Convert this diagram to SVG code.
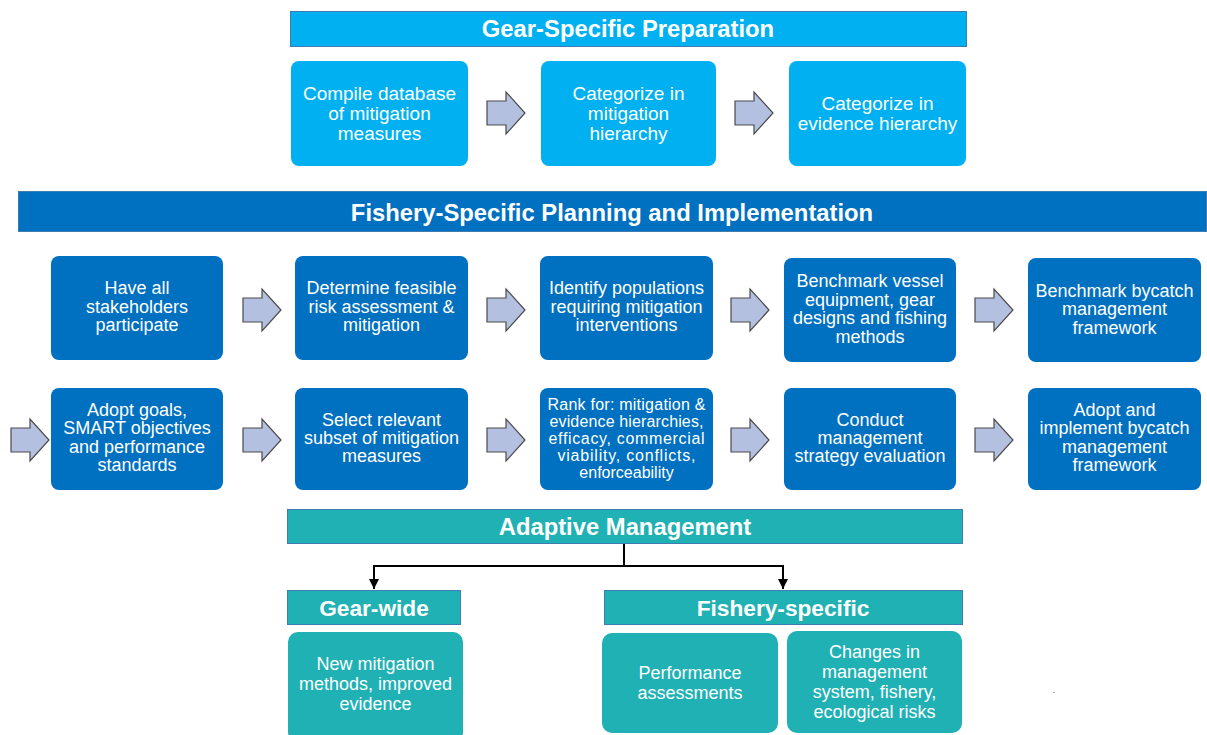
<svg xmlns="http://www.w3.org/2000/svg" width="1207" height="735" viewBox="0 0 1207 735">
<style>
text{font-family:"Liberation Sans",Arial,sans-serif;fill:#fff;text-anchor:middle}
.h{font-weight:bold;font-size:23.8px}
.h2{font-weight:bold;font-size:22.7px}
.t{font-size:18px}
.t19{font-size:19px}
.s{font-size:16px}
.lb{fill:#00B0F0}
.db{fill:#0070C0}
.tl{fill:#1FB1B3}
.ban{stroke:#3E7CB1;stroke-width:1}
.arr{fill:#B4C0E0;stroke:#4A4A4A;stroke-width:1.2}
.con{fill:none;stroke:#000;stroke-width:2}
</style>
<defs>
<path id="ba" class="arr" d="M0,-12 H19 V-21 L38,0 L19,21 V12 H0 Z"/>
<marker id="ah" viewBox="0 0 10 10" refX="10" refY="5" markerWidth="5" markerHeight="5" orient="auto" markerUnits="strokeWidth">
<path d="M0,0 L10,5 L0,10 Z" fill="#000"/>
</marker>
</defs>

<g id="gear-prep">
<rect class="lb ban" x="290.5" y="11.5" width="676" height="35"/>
<text class="h" x="628" y="37">Gear-Specific Preparation</text>
</g>
<g id="compile">
<rect class="lb" x="291" y="61" width="177" height="105" rx="8"/>
<text class="t19" x="379.5" y="99.5">Compile database</text>
<text class="t19" x="379.5" y="119.5">of mitigation</text>
<text class="t19" x="379.5" y="139.5">measures</text>
</g>
<g id="cat-mit">
<rect class="lb" x="541" y="61" width="175" height="105" rx="8"/>
<text class="t19" x="628.5" y="99.5">Categorize in</text>
<text class="t19" x="628.5" y="119.5">mitigation</text>
<text class="t19" x="628.5" y="139.5">hierarchy</text>
</g>
<g id="cat-evi">
<rect class="lb" x="789" y="61" width="177" height="105" rx="8"/>
<text class="t19" x="877.5" y="109.5">Categorize in</text>
<text class="t19" x="877.5" y="129.5">evidence hierarchy</text>
</g>

<g id="fish-plan">
<rect class="db ban" x="18.5" y="191.5" width="1188" height="40"/>
<text class="h" x="612" y="220.5">Fishery-Specific Planning and Implementation</text>
</g>
<g id="r1b1">
<rect class="db" x="51" y="256" width="172" height="104" rx="8"/>
<text class="t" x="137" y="294">Have all</text>
<text class="t" x="137" y="313">stakeholders</text>
<text class="t" x="137" y="331">participate</text>
</g>
<g id="r1b2">
<rect class="db" x="295" y="256" width="173" height="104" rx="8"/>
<text class="t" x="381.5" y="294">Determine feasible</text>
<text class="t" x="381.5" y="313">risk assessment &amp;</text>
<text class="t" x="381.5" y="331">mitigation</text>
</g>
<g id="r1b3">
<rect class="db" x="540" y="256" width="173" height="104" rx="8"/>
<text class="t" x="626.5" y="294">Identify populations</text>
<text class="t" x="626.5" y="313">requiring mitigation</text>
<text class="t" x="626.5" y="331">interventions</text>
</g>
<g id="r1b4">
<rect class="db" x="784" y="258" width="172" height="104" rx="8"/>
<text class="t" x="870" y="287">Benchmark vessel</text>
<text class="t" x="870" y="306">equipment, gear</text>
<text class="t" x="870" y="324">designs and fishing</text>
<text class="t" x="870" y="343">methods</text>
</g>
<g id="r1b5">
<rect class="db" x="1028" y="258" width="173" height="104" rx="8"/>
<text class="t" x="1114.5" y="297">Benchmark bycatch</text>
<text class="t" x="1114.5" y="315">management</text>
<text class="t" x="1114.5" y="334">framework</text>
</g>

<g id="r2b1">
<rect class="db" x="51" y="388" width="172" height="102" rx="8"/>
<text class="t" x="137" y="416">Adopt goals,</text>
<text class="t" x="137" y="434">SMART objectives</text>
<text class="t" x="137" y="453">and performance</text>
<text class="t" x="137" y="471">standards</text>
</g>
<g id="r2b2">
<rect class="db" x="295" y="388" width="173" height="102" rx="8"/>
<text class="t" x="381.5" y="426">Select relevant</text>
<text class="t" x="381.5" y="444">subset of mitigation</text>
<text class="t" x="381.5" y="462">measures</text>
</g>
<g id="r2b3">
<rect class="db" x="540" y="388" width="173" height="102" rx="8"/>
<text class="s" x="626.5" y="409.5" textLength="158" lengthAdjust="spacing">Rank for: mitigation &amp;</text>
<text class="s" x="626.5" y="426.5" textLength="154" lengthAdjust="spacing">evidence hierarchies,</text>
<text class="s" x="626.5" y="443.5" textLength="156" lengthAdjust="spacing">efficacy, commercial</text>
<text class="s" x="626.5" y="460.5" textLength="138" lengthAdjust="spacing">viability, conflicts,</text>
<text class="s" x="626.5" y="477.5">enforceability</text>
</g>
<g id="r2b4">
<rect class="db" x="784" y="388" width="172" height="102" rx="8"/>
<text class="t" x="870" y="426">Conduct</text>
<text class="t" x="870" y="444">management</text>
<text class="t" x="870" y="462">strategy evaluation</text>
</g>
<g id="r2b5">
<rect class="db" x="1028" y="388" width="173" height="102" rx="8"/>
<text class="t" x="1114.5" y="416">Adopt and</text>
<text class="t" x="1114.5" y="434">implement bycatch</text>
<text class="t" x="1114.5" y="453">management</text>
<text class="t" x="1114.5" y="471">framework</text>
</g>

<g id="adaptive">
<rect class="tl ban" x="287.5" y="509.5" width="675" height="34"/>
<text class="h" x="625" y="534.5">Adaptive Management</text>
</g>
<g id="gear-wide">
<rect class="tl ban" x="287.5" y="590.5" width="173" height="34"/>
<text class="h2" x="374" y="616">Gear-wide</text>
</g>
<g id="fishery-specific">
<rect class="tl ban" x="604.5" y="590.5" width="358" height="34"/>
<text class="h2" x="783" y="616">Fishery-specific</text>
</g>
<g id="new-mit">
<rect class="tl" x="288" y="632" width="175" height="110" rx="10"/>
<text class="t" x="375.5" y="670">New mitigation</text>
<text class="t" x="375.5" y="690">methods, improved</text>
<text class="t" x="375.5" y="710">evidence</text>
</g>
<g id="perf">
<rect class="tl" x="602" y="633" width="176" height="100" rx="10"/>
<text class="t" x="690" y="679">Performance</text>
<text class="t" x="690" y="699">assessments</text>
</g>
<g id="changes">
<rect class="tl" x="787" y="631" width="175" height="102" rx="10"/>
<text class="t" x="874.5" y="658">Changes in</text>
<text class="t" x="874.5" y="678">management</text>
<text class="t" x="874.5" y="698">system, fishery,</text>
<text class="t" x="874.5" y="718">ecological risks</text>
</g>

<g id="connectors">
<use href="#ba" x="487" y="113"/>
<use href="#ba" x="735" y="113"/>
<use href="#ba" x="243" y="310"/>
<use href="#ba" x="487" y="310"/>
<use href="#ba" x="731" y="310"/>
<use href="#ba" x="975" y="310"/>
<use href="#ba" x="11" y="440"/>
<use href="#ba" x="243" y="440"/>
<use href="#ba" x="487" y="440"/>
<use href="#ba" x="731" y="440"/>
<use href="#ba" x="975" y="440"/>
<path class="con" d="M624,544 V566" stroke-width="3"/>
<path class="con" d="M624,566 H374 V589" marker-end="url(#ah)"/>
<path class="con" d="M624,566 H783 V589" marker-end="url(#ah)"/>
</g>
<text x="1054" y="693" style="fill:#777;font-size:10px">.</text>
</svg>
